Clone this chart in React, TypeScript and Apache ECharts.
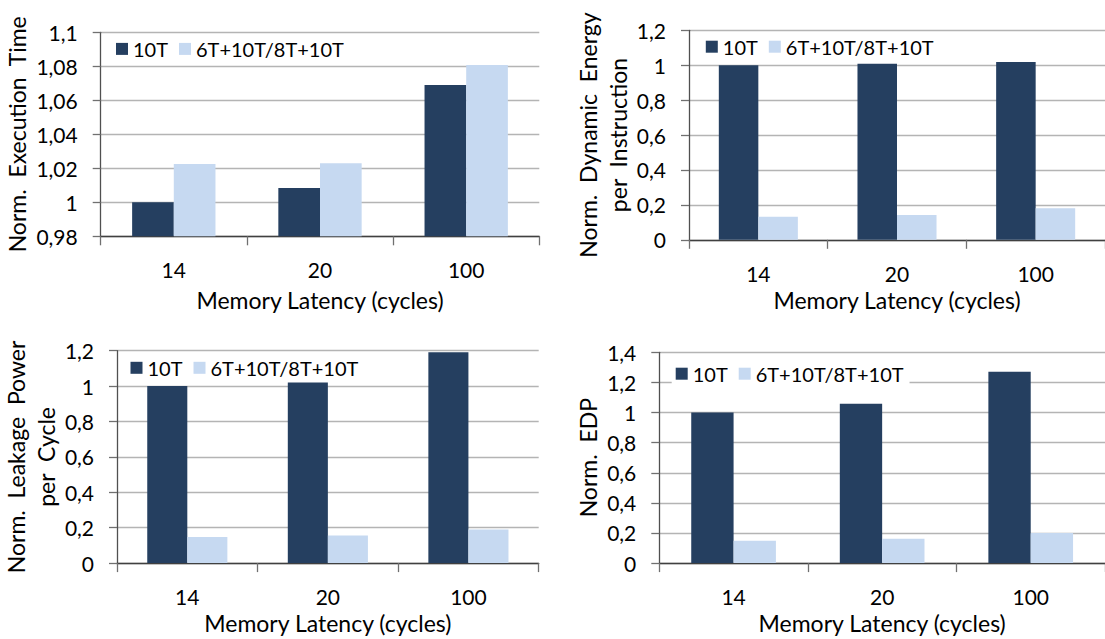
import React, { useEffect, useRef } from "react";
import * as echarts from "echarts";

// ---- data ----
const categories = ["14", "20", "100"];
const seriesNames = ["10T", "6T+10T/8T+10T"];

const execTime10T = [1.0, 1.0084, 1.069];
const execTimeMixed = [1.0225, 1.0229, 1.0808];

const dynEnergy10T = [1.0, 1.008, 1.018];
const dynEnergyMixed = [0.132, 0.142, 0.181];

const leakage10T = [1.0, 1.021, 1.191];
const leakageMixed = [0.147, 0.156, 0.19];

const edp10T = [1.0, 1.059, 1.271];
const edpMixed = [0.149, 0.162, 0.2];

const yNames = [
  "Norm.  Execution  Time",
  "Norm.  Dynamic  Energy\nper  Instruction",
  "Norm.  Leakage  Power\nper  Cycle",
  "Norm.  EDP",
];
const xName = "Memory Latency (cycles)";

const yRanges = [
  { min: 0.98, max: 1.1, interval: 0.02 },
  { min: 0, max: 1.2, interval: 0.2 },
  { min: 0, max: 1.2, interval: 0.2 },
  { min: 0, max: 1.4, interval: 0.2 },
];

// ---- layout / style ----
const FONT = "Lato";
const DARK = "#253F60";
const LIGHT = "#C6D9F1";

const grids = [
  { left: 100.7, top: 32.3, width: 438.6, height: 204 },
  { left: 689, top: 30.3, width: 422.5, height: 209.5 },
  { left: 117, top: 350.7, width: 421.7, height: 214.8 },
  { left: 659.3, top: 352.3, width: 453, height: 213.2 },
];
const yNameGaps = [65.7, 51.4, 52.9, 52.5];
const xNameGaps = [48.5, 45, 44.5, 44.5];
const legendPos = [
  { left: 116, cy: 48.9 },
  { left: 705.8, cy: 46.7 },
  { left: 130.5, cy: 367.8 },
  { left: 675.7, cy: 373.7 },
];

function fmt(v: number): string {
  return String(Number(v.toFixed(2))).replace(".", ",");
}

export default function App() {
  const ref = useRef<HTMLDivElement>(null);

  useEffect(() => {
    if (!ref.current) return;
    const chart = echarts.init(ref.current, undefined, { renderer: "svg" });

    const dataSets = [
      [execTime10T, execTimeMixed],
      [dynEnergy10T, dynEnergyMixed],
      [leakage10T, leakageMixed],
      [edp10T, edpMixed],
    ];

    const padL = 4;
    const padT = 3;

    const option: any = {
      animation: false,
      backgroundColor: "#ffffff",
      textStyle: { fontFamily: FONT },
      grid: grids.map((g) => ({ ...g, containLabel: false })),
      legend: legendPos.map((p) => ({
        left: p.left - padL,
        top: p.cy - 11 - padT,
        orient: "horizontal",
        padding: [padT, 6, padT, padL],
        backgroundColor: "#ffffff",
        itemWidth: 12,
        itemHeight: 12,
        itemGap: 11,
        icon: "rect",
        selectedMode: false,
        data: seriesNames,
        textStyle: {
          fontFamily: FONT,
          fontSize: 20,
          color: "#000",
          lineHeight: 22,
        },
      })),
      xAxis: grids.map((_, i) => ({
        type: "category",
        gridIndex: i,
        data: categories,
        boundaryGap: true,
        name: xName,
        nameLocation: "middle",
        nameGap: xNameGaps[i],
        nameTextStyle: {
          fontFamily: FONT,
          fontSize: 23,
          color: "#000",
          lineHeight: 30,
        },
        axisLine: { show: true, lineStyle: { color: "#404040", width: 1.3 } },
        axisTick: {
          show: true,
          length: 9,
          alignWithLabel: false,
          lineStyle: { color: "#707070", width: 1.3 },
        },
        axisLabel: {
          fontFamily: FONT,
          fontSize: 21,
          color: "#000",
          margin: 23,
          lineHeight: 21,
        },
        splitLine: { show: false },
      })),
      yAxis: grids.map((_, i) => ({
        type: "value",
        gridIndex: i,
        min: yRanges[i].min,
        max: yRanges[i].max,
        interval: yRanges[i].interval,
        name: yNames[i],
        nameLocation: "middle",
        nameRotate: 90,
        nameGap: yNameGaps[i],
        nameTextStyle: {
          fontFamily: FONT,
          fontSize: 23,
          color: "#000",
          lineHeight: 30,
        },
        axisLine: { show: true, lineStyle: { color: "#505050", width: 1.3 } },
        axisTick: {
          show: true,
          length: 8,
          lineStyle: { color: "#707070", width: 1.3 },
        },
        axisLabel: {
          fontFamily: FONT,
          fontSize: 21,
          color: "#000",
          margin: 23,
          formatter: (v: number) => fmt(v),
        },
        splitLine: { show: true, lineStyle: { color: "#B4B4B4", width: 1.3 } },
      })),
      series: dataSets.flatMap((pair, i) =>
        pair.map((vals, j) => ({
          type: "bar",
          name: seriesNames[j],
          xAxisIndex: i,
          yAxisIndex: i,
          data: vals,
          barGap: "0%",
          barCategoryGap: "43%",
          itemStyle: { color: j === 0 ? DARK : LIGHT },
          emphasis: { disabled: true },
        }))
      ),
    };

    chart.setOption(option);
    return () => chart.dispose();
  }, []);

  return (
    <div
      ref={ref}
      style={{ position: "absolute", left: 0, top: 0, width: 1105, height: 639 }}
    />
  );
}
